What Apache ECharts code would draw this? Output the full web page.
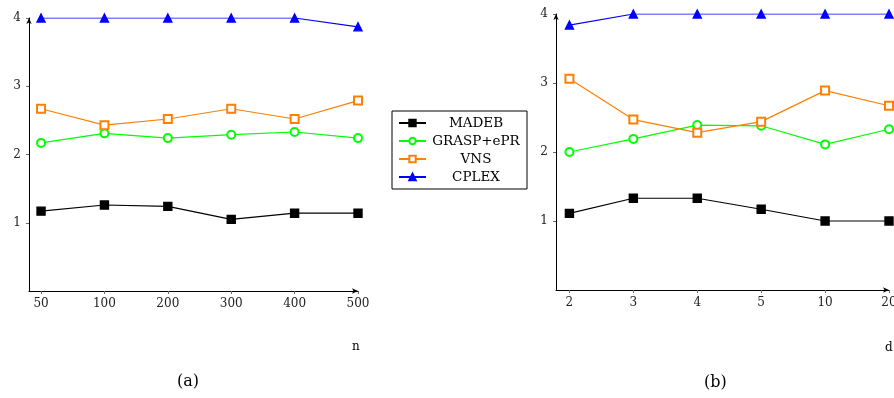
<!DOCTYPE html>
<html><head><meta charset="utf-8">
<script src="https://cdn.jsdelivr.net/npm/echarts@6/dist/echarts.min.js"></script>
<style>html,body{margin:0;padding:0;background:#fff}#c{width:894px;height:398px}</style>
</head><body><div id="c"></div>
<script>
const catsA = ['50','100','200','300','400','500'];
const catsB = ['2','3','4','5','10','20'];
const yTicks = [1,2,3,4];
const seriesNames = ['MADEB','GRASP+ePR','VNS','CPLEX'];
const madebA = [1.17,1.26,1.24,1.05,1.14,1.14];
const graspA = [2.17,2.31,2.24,2.29,2.33,2.24];
const vnsA   = [2.67,2.43,2.52,2.67,2.52,2.79];
const cplexA = [4,4,4,4,4,3.87];
const madebB = [1.11,1.33,1.33,1.17,1.0,1.0];
const graspB = [2.0,2.19,2.39,2.38,2.11,2.33];
const vnsB   = [3.06,2.47,2.28,2.44,2.89,2.67];
const cplexB = [3.84,4,4,4,4,4];

const FONT = 'DejaVu Serif';
const styles = [
  {color:'#000000', symbol:'rect', size:8},
  {color:'#00ff00', symbol:'emptyCircle', size:8},
  {color:'#ff8000', symbol:'emptyRect', size:8},
  {color:'#0000ff', symbol:'triangle', size:8}
];
const idx = [0,1,2,3,4,5];
function mk(name, vals, g, s){
  return {name:name, type:'line', xAxisIndex:g, yAxisIndex:g,
    data: vals.map((v,i)=>[i,v]), symbol:s.symbol, symbolSize:s.size,
    lineStyle:{color:s.color,width:1.2}, itemStyle:{color:s.color,borderColor:s.color,borderWidth:1.4},
    emphasis:{disabled:true}, animation:false, z:3};
}
function xAx(g, cats, pad){
  return {type:'value', gridIndex:g, min:-pad, max:5,
    axisLine:{show:true, lineStyle:{color:'#000',width:1}, symbol:['none','arrow'], symbolSize:[4,6], onZero:false},
    axisTick:{show:true, customValues:idx, length:3, lineStyle:{color:'#666'}},
    axisLabel:{customValues:idx, formatter:v=>cats[Math.round(v)], fontFamily:FONT, fontSize:12, color:'#222', margin:7},
    splitLine:{show:false}};
}
function yAx(g){
  return {type:'value', gridIndex:g, min:0, max:4,
    axisLine:{show:true, lineStyle:{color:'#000',width:1}, symbol:['none','arrow'], symbolSize:[4,6], onZero:false},
    axisTick:{show:true, customValues:yTicks, length:3, lineStyle:{color:'#666'}},
    axisLabel:{customValues:yTicks, fontFamily:FONT, fontSize:12, color:'#222', margin:8},
    splitLine:{show:false}};
}
const chart = echarts.init(document.getElementById('c'), null, {renderer:'canvas'});
chart.setOption({
  animation:false,
  grid:[
    {left:29, right:536, top:18, bottom:107, outerBoundsMode:'none', containLabel:false},
    {left:556, right:5, top:14, bottom:108, outerBoundsMode:'none', containLabel:false}
  ],
  xAxis:[xAx(0,catsA,0.19), xAx(1,catsB,0.21)],
  yAxis:[yAx(0), yAx(1)],
  legend:{
    data:seriesNames, orient:'vertical', left:392, top:111,
    borderColor:'#000', borderWidth:1, borderRadius:0, padding:[5,6,5,6],
    itemWidth:27, itemHeight:8, itemGap:4, selectedMode:false,
    formatter: n => '{c|' + n + '}',
    textStyle:{fontFamily:FONT, fontSize:13, color:'#000',
      rich:{c:{width:90, align:'center', fontFamily:FONT, fontSize:13.5, lineHeight:14.5, color:'#000'}}}
  },
  graphic:[
    {type:'text', left:352, top:341, style:{text:'n', font:'12px "DejaVu Serif"', fill:'#000'}},
    {type:'text', left:885, top:342, style:{text:'d', font:'12px "DejaVu Serif"', fill:'#000'}},
    {type:'text', left:177, top:374, style:{text:'(a)', font:'16px "DejaVu Serif"', fill:'#000'}},
    {type:'text', left:704, top:375, style:{text:'(b)', font:'16px "DejaVu Serif"', fill:'#000'}}
  ],
  series:[
    mk('MADEB', madebA, 0, styles[0]), mk('GRASP+ePR', graspA, 0, styles[1]),
    mk('VNS', vnsA, 0, styles[2]), mk('CPLEX', cplexA, 0, styles[3]),
    mk('MADEB', madebB, 1, styles[0]), mk('GRASP+ePR', graspB, 1, styles[1]),
    mk('VNS', vnsB, 1, styles[2]), mk('CPLEX', cplexB, 1, styles[3])
  ]
});
</script></body></html>
